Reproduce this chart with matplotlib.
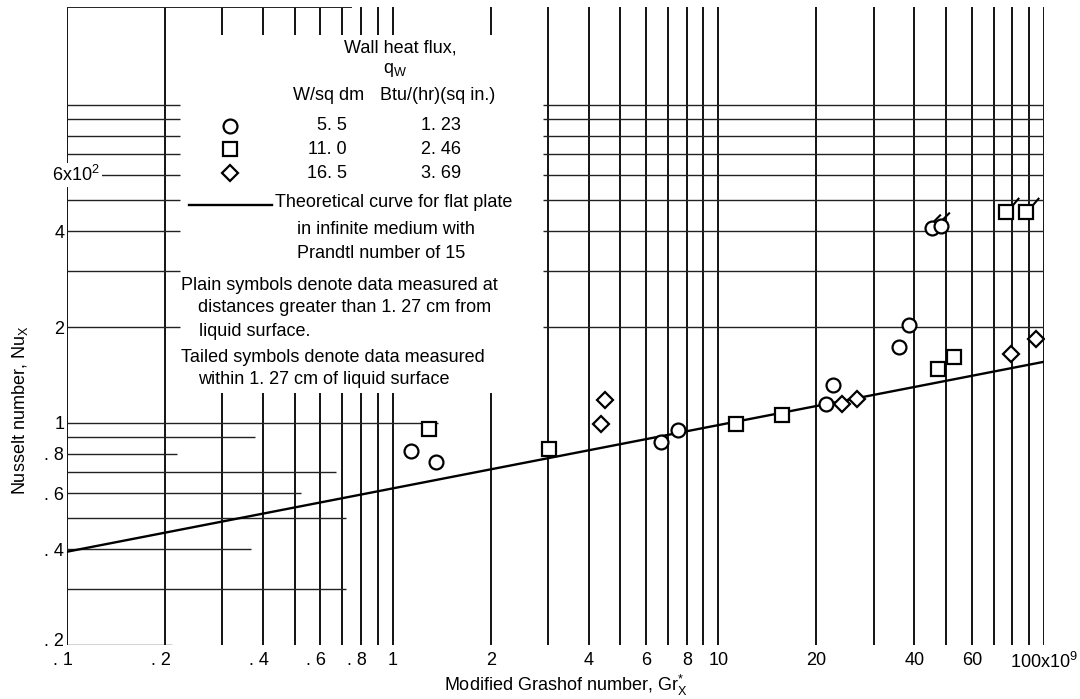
import matplotlib
matplotlib.use("Agg")
import matplotlib.pyplot as plt
import matplotlib.transforms as mtransforms
from matplotlib import font_manager
from matplotlib.path import Path
from matplotlib.ticker import NullFormatter

names = {f.name for f in font_manager.fontManager.ttflist}
FONT = "DejaVu Sans"
for cand in ["Liberation Sans Narrow", "DejaVu Sans Condensed", "Liberation Sans"]:
    if cand in names:
        FONT = cand
        break
plt.rcParams["font.family"] = [FONT, "DejaVu Sans"]
plt.rcParams["mathtext.fontset"] = "custom"
plt.rcParams["mathtext.rm"] = FONT
plt.rcParams["mathtext.it"] = FONT
plt.rcParams["mathtext.default"] = "rm"

# data (Gr* in units of 1e9, Nu in units of 1e2)
circ_x = [1.14, 1.36, 6.66, 7.52, 21.4, 22.5, 35.8, 38.5]
circ_y = [0.816, 0.754, 0.871, 0.95, 1.147, 1.317, 1.734, 2.03]
circ_tail_x = [45.3, 48.2]
circ_tail_y = [4.10, 4.16]

sq_x = [1.29, 3.02, 11.3, 15.7, 47.2, 52.9]
sq_y = [0.957, 0.828, 0.993, 1.06, 1.479, 1.612]
sq_tail_x = [76.4, 87.9]
sq_tail_y = [4.61, 4.61]

dia_x = [4.36, 4.49, 23.96, 26.6, 79.1, 94.4]
dia_y = [0.993, 1.181, 1.147, 1.19, 1.648, 1.837]

theory_x = [0.1, 100]
theory_y = [0.393, 1.555]

xticks = [0.1, 0.2, 0.4, 0.6, 0.8, 1, 2, 4, 6, 8, 10, 20, 40, 60, 100]
xticklabels = [". 1", ". 2", ". 4", ". 6", ". 8", "1", "2", "4", "6", "8",
               "10", "20", "40", "60", "100x10$^{9}$"]
yticks = [0.2, 0.4, 0.6, 0.8, 1, 2, 4]
yticklabels = [". 2", ". 4", ". 6", ". 8", "1", "2", "4"]

W, H = 1080, 699
fig = plt.figure(figsize=(W / 100, H / 100), dpi=100)
ax = fig.add_axes([67 / W, 1 - 645 / H, 977 / W, 638 / H])
ax.set_xscale("log")
ax.set_yscale("log")
ax.set_xlim(0.1, 100)
ax.set_ylim(0.2, 20.3)
for s in ax.spines.values():
    s.set_visible(False)

YTOP = 20.3
# chart-paper grid, cut around the key
full_v = [0.1, 0.2] + list(range(3, 10)) + list(range(10, 101, 10))
split_v = [0.3, 0.4, 0.5, 0.6, 0.7, 0.8, 0.9, 1, 2]
ax.vlines(full_v, 0.2, YTOP, color="black", lw=1.3, zorder=1)
ax.vlines(split_v, 16.6, YTOP, color="black", lw=1.3, zorder=1)
ax.vlines(split_v, 0.2, 1.24, color="black", lw=1.3, zorder=1)

upper_h = [2, 3, 4, 5, 6, 7, 8, 9, 10]
ax.hlines(upper_h, 0.1, 0.222, color="#222222", lw=1.0, zorder=1)
ax.hlines(upper_h, 2.9, 100, color="#222222", lw=1.0, zorder=1)
ax.hlines(YTOP, 0.1, 0.75, color="#222222", lw=1.4, zorder=1)
lower_h = [1, 0.9, 0.8, 0.7, 0.6, 0.5, 0.4, 0.3, 0.2]
lower_end = [1.38, 0.378, 0.218, 0.67, 0.524, 0.72, 0.367, 0.72, 0.21]
for yv, xe in zip(lower_h, lower_end):
    ax.hlines(yv, 0.1, xe, color="#222222", lw=1.0, zorder=1)

ax.plot(theory_x, theory_y, color="black", lw=1.7, zorder=2)

mk = dict(linestyle="none", markerfacecolor="white", markeredgecolor="black",
          markeredgewidth=1.6, zorder=3)
ax.plot(circ_x + circ_tail_x, circ_y + circ_tail_y, marker="o", markersize=10, **mk)
ax.plot(sq_x + sq_tail_x, sq_y + sq_tail_y, marker="s", markersize=9.5, **mk)
ax.plot(dia_x, dia_y, marker="D", markersize=8, **mk)

tail_c = Path([(0.1, 0.5), (0.6, 1.0)], [Path.MOVETO, Path.LINETO])
tail_s = Path([(0.47, 0.53), (0.87, 1.0)], [Path.MOVETO, Path.LINETO])
ax.plot(circ_tail_x, circ_tail_y, linestyle="none", marker=tail_c, markersize=20,
        markeredgecolor="black", markeredgewidth=1.5, zorder=4)
ax.plot(sq_tail_x, sq_tail_y, linestyle="none", marker=tail_s, markersize=21,
        markeredgecolor="black", markeredgewidth=1.5, zorder=4)

ax.xaxis.set_minor_formatter(NullFormatter())
ax.yaxis.set_minor_formatter(NullFormatter())
ax.set_xticks(xticks)
ax.set_xticklabels(xticklabels)
ax.set_yticks(yticks)
ax.set_yticklabels(yticklabels)
ax.tick_params(which="both", length=0, labelsize=13)
ax.tick_params(axis="x", pad=5)
ax.tick_params(axis="y", pad=2)
shift = mtransforms.ScaledTranslation(4 / 72, 0, fig.dpi_scale_trans)
for lbl in ax.get_xticklabels():
    if lbl.get_text().startswith("."):
        lbl.set_ha("right")
        lbl.set_transform(lbl.get_transform() + shift)
lift = mtransforms.ScaledTranslation(0, 4 / 72, fig.dpi_scale_trans)
ylbl0 = ax.get_yticklabels()[0]
ylbl0.set_transform(ylbl0.get_transform() + lift)

ax.set_xlabel("Modified Grashof number, Gr$_{X}^{*}$", fontsize=13)
ax.xaxis.set_label_coords(0.51, -0.063)
ax.xaxis.label.set_va("center")
ax.set_ylabel("Nusselt number, Nu$_{X}$", fontsize=13)
ax.yaxis.set_label_coords(-0.048, 0.368)
ax.yaxis.label.set_va("center")

def px(x, y):
    return x / W, 1 - y / H

fs = 13
fig.text(*px(100, 175), "6x10$^{2}$", ha="right", va="center", fontsize=13,
         bbox=dict(facecolor="white", edgecolor="none", pad=1.5))

# key
fig.text(*px(400, 48), "Wall heat flux,", ha="center", va="center", fontsize=fs)
fig.text(*px(395, 70), "q$_{W}$", ha="center", va="center", fontsize=fs)
fig.text(*px(293, 95), "W/sq dm", ha="left", va="center", fontsize=fs)
fig.text(*px(380, 95), "Btu/(hr)(sq in.)", ha="left", va="center", fontsize=fs)
rows = [("o", 10, "5. 5", "1. 23", 126), ("s", 9.5, "11. 0", "2. 46", 149),
        ("D", 8, "16. 5", "3. 69", 173)]
for m, ms, a, b, yy in rows:
    fig.lines.append(plt.Line2D([230 / W], [1 - yy / H], marker=m, markersize=ms,
                                markerfacecolor="white", markeredgecolor="black",
                                markeredgewidth=1.6, transform=fig.transFigure))
    fig.text(*px(347, yy), a, ha="right", va="center", fontsize=fs)
    fig.text(*px(461, yy), b, ha="right", va="center", fontsize=fs)
fig.lines.append(plt.Line2D([189 / W, 272 / W], [1 - 205 / H, 1 - 205 / H],
                            color="black", lw=1.7, transform=fig.transFigure))
notes = [(275, 203, "Theoretical curve for flat plate"),
         (297, 229, "in infinite medium with"),
         (297, 253, "Prandtl number of 15"),
         (181, 285, "Plain symbols denote data measured at"),
         (198, 308, "distances greater than 1. 27 cm from"),
         (199, 332, "liquid surface."),
         (181, 357, "Tailed symbols denote data measured"),
         (198, 380, "within 1. 27 cm of liquid surface")]
for xx, yy, t in notes:
    fig.text(*px(xx, yy), t, ha="left", va="center", fontsize=fs)

fig.savefig("out.png", dpi=100)
